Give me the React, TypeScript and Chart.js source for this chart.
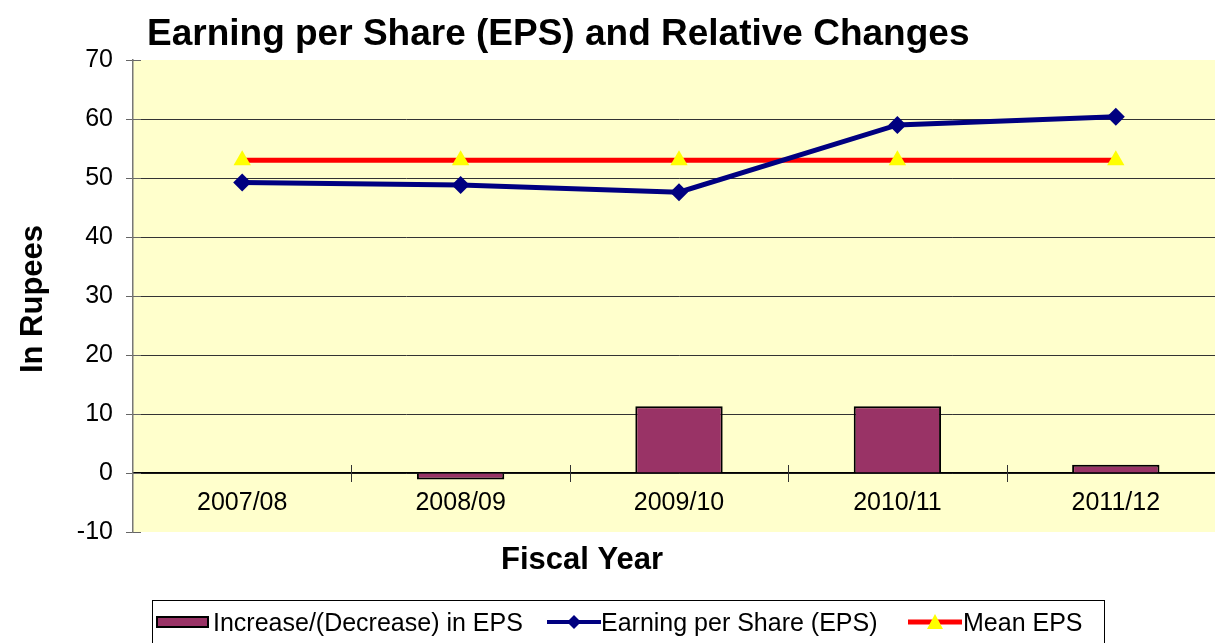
import React, { useEffect, useRef } from "react";
import { Chart, registerables } from "chart.js";

Chart.register(...registerables);

const categories = ["2007/08", "2008/09", "2009/10", "2010/11", "2011/12"];
const changeInEPS = [0, -1.1, 11.3, 11.3, 1.4];
const epsValues = [49.25, 48.8, 47.6, 59.0, 60.4];
const meanEPS = [53.0, 53.0, 53.0, 53.0, 53.0];
const yMin = -10;
const yMax = 70;
const yStep = 10;
const seriesNames = ["Increase/(Decrease) in EPS", "Earning per Share (EPS)", "Mean EPS"];
const chartTitle = "Earning per Share (EPS) and Relative Changes";
const xAxisTitle = "Fiscal Year";
const yAxisTitle = "In Rupees";

const FONT = "'Liberation Sans', Arial, Helvetica, sans-serif";
const BAR_COLOR = "#993366";
const EPS_COLOR = "#000080";
const MEAN_COLOR = "#FF0000";
const MARKER_YELLOW = "#FFFF00";

const decorPlugin = {
  id: "decor",
  beforeDraw(chart: any) {
    const { ctx, chartArea: a } = chart;
    ctx.save();
    ctx.fillStyle = "#FFFFCC";
    ctx.fillRect(a.left, a.top, a.right - a.left, a.bottom - a.top);
    ctx.restore();
  },
  afterDraw(chart: any) {
    const { ctx, chartArea: a } = chart;
    const xs = chart.scales.x;
    const ys = chart.scales.y;
    ctx.save();
    // inner part of y tick marks
    ctx.strokeStyle = "#666";
    ctx.lineWidth = 1;
    ys.ticks.forEach((t: any) => {
      const py = Math.round(ys.getPixelForValue(t.value)) + 0.5;
      ctx.beginPath();
      ctx.moveTo(a.left, py);
      ctx.lineTo(a.left + 8, py);
      ctx.stroke();
    });
    // cross ticks on category axis
    const y0 = Math.round(ys.getPixelForValue(0));
    const half = (xs.getPixelForValue(1) - xs.getPixelForValue(0)) / 2;
    ctx.strokeStyle = "#333";
    for (let i = 1; i < categories.length; i++) {
      const px = Math.round(xs.getPixelForValue(i) - half) + 0.5;
      ctx.beginPath();
      ctx.moveTo(px, y0 - 8);
      ctx.lineTo(px, y0 + 9);
      ctx.stroke();
    }
    // titles
    ctx.fillStyle = "#000";
    ctx.font = `bold 37px ${FONT}`;
    ctx.textAlign = "left";
    ctx.textBaseline = "alphabetic";
    ctx.fillText(chartTitle, 147, 45);

    ctx.font = `bold 31px ${FONT}`;
    ctx.textAlign = "center";
    ctx.textBaseline = "middle";
    ctx.fillText(xAxisTitle, 582, 560);

    ctx.translate(33, 299);
    ctx.rotate(-Math.PI / 2);
    ctx.fillText(yAxisTitle, 0, 0);
    ctx.restore();
  },
};

function DiamondLine() {
  return (
    <svg width={54} height={20} style={{ display: "block" }}>
      <line x1={0} y1={10} x2={54} y2={10} stroke={EPS_COLOR} strokeWidth={4} />
      <polygon points="27,3 34,10 27,17 20,10" fill={EPS_COLOR} />
    </svg>
  );
}

function TriangleLine() {
  return (
    <svg width={54} height={20} style={{ display: "block" }}>
      <line x1={0} y1={10} x2={54} y2={10} stroke={MEAN_COLOR} strokeWidth={5} />
      <polygon points="27,2 35,17 19,17" fill={MARKER_YELLOW} />
    </svg>
  );
}

export default function App() {
  const ref = useRef<HTMLCanvasElement>(null);

  useEffect(() => {
    if (!ref.current) return;
    const chart = new Chart(ref.current, {
      type: "bar",
      data: {
        labels: categories,
        datasets: [
          {
            type: "bar",
            label: seriesNames[0],
            data: changeInEPS,
            backgroundColor: BAR_COLOR,
            borderColor: "#000",
            borderWidth: 2,
            barPercentage: 0.4,
            categoryPercentage: 1.0,
            order: 3,
          } as any,
          {
            type: "line",
            label: seriesNames[1],
            data: epsValues,
            borderColor: EPS_COLOR,
            backgroundColor: EPS_COLOR,
            borderWidth: 5,
            pointStyle: "rectRot",
            pointRadius: 9,
            pointBorderWidth: 0,
            pointBackgroundColor: EPS_COLOR,
            tension: 0,
            order: 1,
          } as any,
          {
            type: "line",
            label: seriesNames[2],
            data: meanEPS,
            borderColor: MEAN_COLOR,
            backgroundColor: MARKER_YELLOW,
            borderWidth: 5,
            pointStyle: "triangle",
            pointRadius: 10,
            pointBorderWidth: 0,
            pointBackgroundColor: MARKER_YELLOW,
            tension: 0,
            order: 2,
          } as any,
        ],
      },
      plugins: [decorPlugin],
      options: {
        responsive: false,
        animation: false,
        devicePixelRatio: 1,
        layout: { padding: { top: 60, right: 15, bottom: 111, left: 0 } },
        plugins: {
          legend: { display: false },
          title: { display: false },
          tooltip: { enabled: false },
        },
        scales: {
          x: {
            type: "category",
            position: { y: 0 } as any,
            offset: true,
            grid: { display: false, drawTicks: false, offset: true },
            border: { display: true, color: "#000", width: 1.5 },
            ticks: {
              color: "#000",
              font: { family: FONT, size: 25 },
              padding: 15,
              maxRotation: 0,
              autoSkip: false,
            },
          },
          y: {
            min: yMin,
            max: yMax,
            afterFit(scale: any) {
              scale.width = 133;
            },
            ticks: {
              stepSize: yStep,
              color: "#000",
              font: { family: FONT, size: 25 },
              padding: 13,
            },
            grid: {
              color: (c: any) =>
                c.tick && (c.tick.value === yMax || c.tick.value === yMin) ? "rgba(0,0,0,0)" : "#333",
              borderDash: [1, 1],
              lineWidth: 1,
              drawTicks: true,
              tickLength: 7,
              tickColor: "#666",
              tickBorderDash: [],
              tickWidth: 1,
            } as any,
            border: { display: true, color: "#777", width: 1.5 },
          },
        },
      },
    });
    return () => chart.destroy();
  }, []);

  const textStyle: React.CSSProperties = {
    position: "absolute",
    top: 607,
    height: 30,
    display: "flex",
    alignItems: "center",
    fontFamily: FONT,
    fontSize: 25,
    color: "#000",
    whiteSpace: "nowrap",
    lineHeight: 1,
  };

  return (
    <div
      style={{
        position: "fixed",
        left: 0,
        top: 0,
        width: 1215,
        height: 643,
        overflow: "hidden",
        background: "#fff",
      }}
    >
      <canvas
        ref={ref}
        width={1240}
        height={643}
        style={{ position: "absolute", left: 0, top: 0, width: 1240, height: 643 }}
      />
      <div
        style={{
          position: "absolute",
          left: 152,
          top: 600,
          width: 953,
          height: 60,
          border: "1px solid #000",
          boxSizing: "border-box",
        }}
      />
      <div
        style={{
          position: "absolute",
          left: 156,
          top: 616,
          width: 53,
          height: 12,
          background: BAR_COLOR,
          border: "2px solid #000",
          boxSizing: "border-box",
        }}
      />
      <div style={{ ...textStyle, left: 213 }}>{seriesNames[0]}</div>
      <div style={{ position: "absolute", left: 547, top: 612 }}>
        <DiamondLine />
      </div>
      <div style={{ ...textStyle, left: 601 }}>{seriesNames[1]}</div>
      <div style={{ position: "absolute", left: 908, top: 612 }}>
        <TriangleLine />
      </div>
      <div style={{ ...textStyle, left: 963 }}>{seriesNames[2]}</div>
    </div>
  );
}
